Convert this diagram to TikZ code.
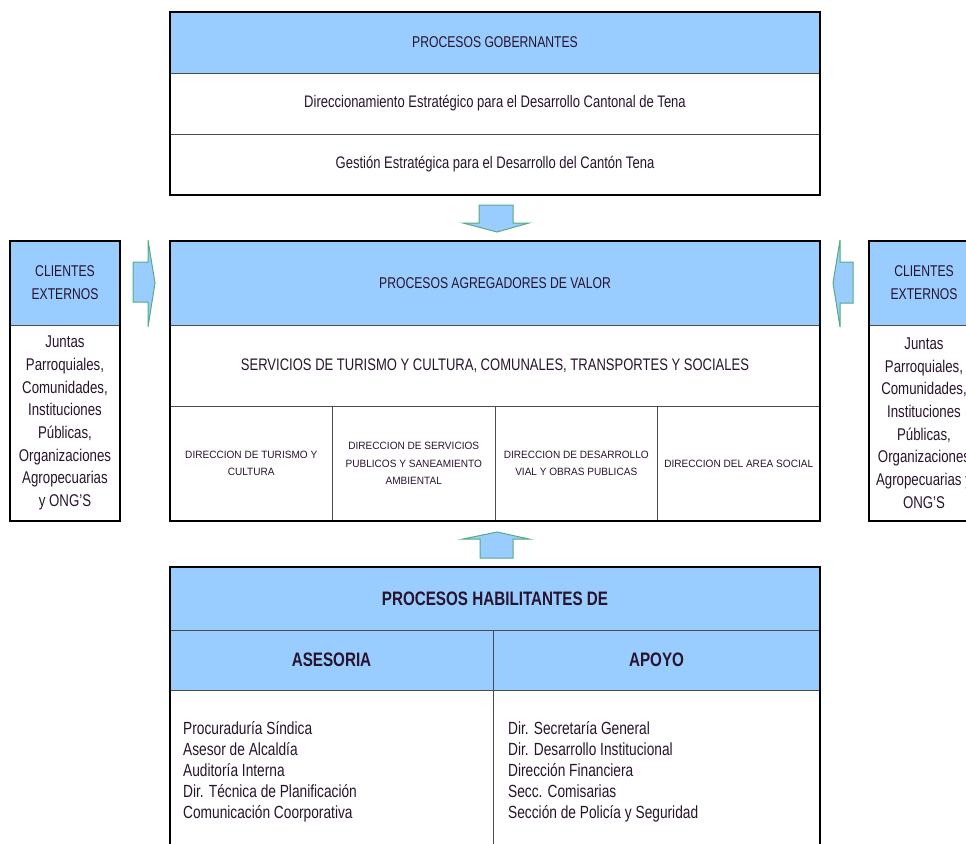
\documentclass[tikz,border=0pt]{standalone}
\usepackage{fontspec}
\setmainfont[FakeStretch=0.78]{Liberation Sans}
\newfontfamily\colfont[FakeStretch=0.95]{Liberation Sans}
\usetikzlibrary{positioning}

\definecolor{azulcab}{RGB}{153,204,255}
\definecolor{verdeflecha}{RGB}{84,172,128}
\definecolor{tinta}{RGB}{40,20,45}

\begin{document}
\begin{tikzpicture}[x=1pt, y=-1pt,
  celda/.style={draw=black!70, line width=0.8pt, outer sep=0pt, inner sep=2pt,
    text=tinta, align=center, anchor=north west},
  cab/.style={celda, fill=azulcab},
  marco/.style={draw=black, line width=2.2pt},
  bloque/.style={draw=verdeflecha, line width=1pt, fill=azulcab},
  fcab/.style={font=\fontsize{15.6}{23}\selectfont},
  ffila/.style={font=\fontsize{16.7}{20}\selectfont},
  fcol/.style={font=\colfont\fontsize{10.6}{17.5}\selectfont},
  fcli/.style={font=\fontsize{17}{22.7}\selectfont},
  fhab/.style={font=\bfseries\fontsize{19.5}{23}\selectfont},
  flista/.style={font=\fontsize{17.6}{21}\selectfont, text=tinta, align=left,
    inner sep=0pt, anchor=north west},
]
  \useasboundingbox (0,0) rectangle (966,843);
  \clip (0,0) rectangle (966,843);

  % procesos gobernantes
  \node[cab, fcab, minimum width=650pt, minimum height=61pt] (gobcab) at (170,12) {PROCESOS GOBERNANTES};
  \node[celda, ffila, minimum width=650pt, minimum height=61pt, below=0pt of gobcab] (gobdir)
    {Direccionamiento Estratégico para el Desarrollo Cantonal de Tena};
  \node[celda, ffila, minimum width=650pt, minimum height=61pt, below=0pt of gobdir] (gobges)
    {Gestión Estratégica para el Desarrollo del Cantón Tena};
  \draw[marco] (gobcab.north west) rectangle (gobges.south east);

  % procesos agregadores de valor
  \node[cab, fcab, minimum width=650pt, minimum height=84pt] (agcab) at (170,241) {PROCESOS AGREGADORES DE VALOR};
  \node[celda, ffila, minimum width=650pt, minimum height=81pt, below=0pt of agcab] (agserv)
    {SERVICIOS DE TURISMO Y CULTURA, COMUNALES, TRANSPORTES Y SOCIALES};
  \node[celda, fcol, minimum width=162.5pt, minimum height=115pt] (agtur) at (agserv.south west)
    {DIRECCION DE TURISMO Y\\CULTURA};
  \node[celda, fcol, minimum width=162.5pt, minimum height=115pt, right=0pt of agtur] (agpub)
    {DIRECCION DE SERVICIOS\\PUBLICOS Y SANEAMIENTO\\AMBIENTAL};
  \node[celda, fcol, minimum width=162.5pt, minimum height=115pt, right=0pt of agpub] (agvial)
    {DIRECCION DE DESARROLLO\\VIAL Y OBRAS PUBLICAS};
  \node[celda, fcol, minimum width=162.5pt, minimum height=115pt, right=0pt of agvial] (agsoc)
    {DIRECCION DEL AREA SOCIAL};
  \draw[marco] (agcab.north west) rectangle (agsoc.south east);

  % clientes externos
  \node[cab, fcab, minimum width=110pt, minimum height=84pt] (cliizq) at (10,241) {CLIENTES\\EXTERNOS};
  \node[celda, fcli, minimum width=110pt, minimum height=196pt, below=0pt of cliizq] (cliizqtxt)
    {Juntas\\Parroquiales,\\Comunidades,\\Instituciones\\Públicas,\\Organizaciones\\Agropecuarias\\y ONG'S};
  \draw[marco] (cliizq.north west) rectangle (cliizqtxt.south east);

  \node[cab, fcab, minimum width=110pt, minimum height=84pt] (clider) at (869,241) {CLIENTES\\EXTERNOS};
  \node[celda, fcli, minimum width=110pt, minimum height=196pt, below=0pt of clider] (clidertxt)
    {Juntas\\Parroquiales,\\Comunidades,\\Instituciones\\Públicas,\\Organizaciones\\Agropecuarias y\\ONG'S};
  \draw[marco] (clider.north west) rectangle (clidertxt.south east);

  % procesos habilitantes
  \node[cab, fhab, minimum width=650pt, minimum height=63pt] (habcab) at (170,567) {PROCESOS HABILITANTES DE};
  \node[cab, fhab, minimum width=323pt, minimum height=60pt] (habase) at (habcab.south west) {ASESORIA};
  \node[cab, fhab, minimum width=327pt, minimum height=60pt, right=0pt of habase] (habapo) {APOYO};
  \node[celda, minimum width=323pt, minimum height=170pt, below=0pt of habase] (habasecel) {};
  \node[celda, minimum width=327pt, minimum height=170pt, below=0pt of habapo] (habapocel) {};
  \node[flista, below right=31pt and 13pt of habasecel.north west] (habaselst)
    {Procuraduría Síndica\\Asesor de Alcaldía\\Auditoría Interna\\Dir. Técnica de Planificación\\Comunicación Coorporativa};
  \node[flista, below right=31pt and 15pt of habapocel.north west] (habapolst)
    {Dir. Secretaría General\\Dir. Desarrollo Institucional\\Dirección Financiera\\Secc. Comisarias\\Sección de Policía y Seguridad};
  \draw[marco] (habcab.north west) rectangle (habapocel.south east);

  % flechas
  \draw[bloque] (479,205) -- (513,205) -- (513,223) -- (529,223) -- (497,232) -- (463,223) -- (479,223) -- cycle;
  \draw[bloque] (480,558) -- (513,558) -- (513,539) -- (529,539) -- (497,532) -- (463,539) -- (480,539) -- cycle;
  \draw[bloque] (133,262) -- (148,262) -- (148,240) -- (155,283) -- (148,327) -- (148,302) -- (133,302) -- cycle;
  \draw[bloque] (853,262) -- (840,262) -- (840,240) -- (833,283) -- (840,327) -- (840,303) -- (853,303) -- cycle;
\end{tikzpicture}
\end{document}
